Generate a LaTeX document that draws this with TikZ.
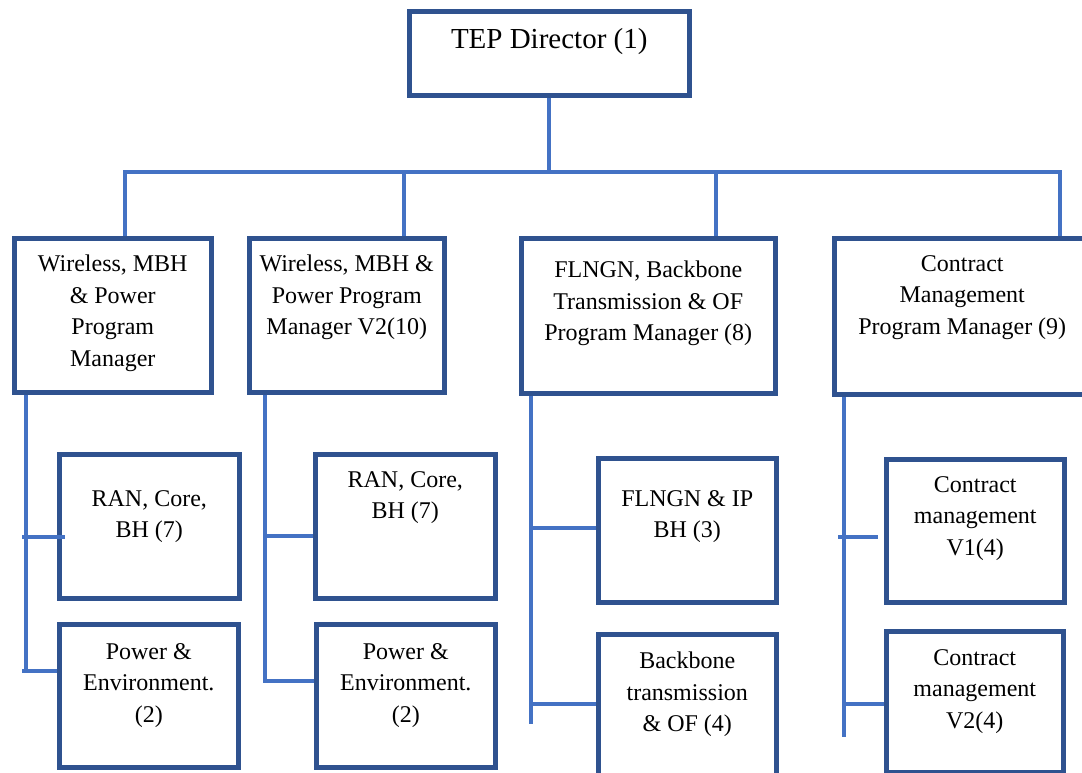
\documentclass[tikz,border=0pt]{standalone}
\usepackage{fontspec}
\setmainfont{Liberation Serif}
\definecolor{boxblue}{RGB}{47,82,143}
\definecolor{lineblue}{RGB}{68,114,196}
\newcommand{\boxtext}[4]{\parbox[c][#2][t]{#1}{\centering\vspace*{#3}#4\par}}

\begin{document}
\begin{tikzpicture}[
  x=1pt, y=-1pt,
  box/.style={draw=boxblue, line width=4.5pt, inner sep=0pt, fill=white, anchor=north west, font=\fontsize{24}{31.5}\selectfont},
  conn/.style={draw=lineblue, line width=4pt},
]
  \useasboundingbox (0,0) rectangle (1082,772);
  \clip (0,0) rectangle (1082,772);

  \node[box, font=\fontsize{29}{35}\selectfont] (dir) at (407,9) {\boxtext{280pt}{84pt}{17pt}{TEP Director (1)}};

  \node[box] (wmp) at (12,236) {\boxtext{197pt}{154pt}{17pt}{Wireless, MBH\\ \& Power\\ Program\\ Manager}};
  \node[box] (wv2) at (247,236) {\boxtext{195pt}{154pt}{17pt}{Wireless, MBH \&\\ Power Program\\ Manager V2(10)}};
  \node[box] (flm) at (519,236) {\boxtext{254pt}{155pt}{23pt}{FLNGN, Backbone\\ Transmission \& OF\\ Program Manager (8)}};
  \node[box] (cmp) at (832,236) {\boxtext{256pt}{156pt}{17pt}{Contract\\ Management\\ Program Manager (9)}};

  \node[box] (ranA) at (57,452) {\boxtext{180pt}{144pt}{36pt}{RAN, Core,\\ BH (7)}};
  \node[box] (pwrA) at (57,622) {\boxtext{179pt}{143pt}{19pt}{Power \&\\ Environment.\\ (2)}};
  \node[box] (ranB) at (313,452) {\boxtext{180pt}{144pt}{17pt}{RAN, Core,\\ BH (7)}};
  \node[box] (pwrB) at (314,622) {\boxtext{179pt}{143pt}{19pt}{Power \&\\ Environment.\\ (2)}};
  \node[box] (flip) at (596,456) {\boxtext{178pt}{144pt}{32pt}{FLNGN \& IP\\ BH (3)}};
  \node[box] (bbt) at (596,632) {\boxtext{178pt}{144pt}{18pt}{Backbone\\ transmission\\ \& OF (4)}};
  \node[box] (cm1) at (884,457) {\boxtext{178pt}{143pt}{17pt}{Contract\\ management\\ V1(4)}};
  \node[box] (cm2) at (884,629) {\boxtext{177pt}{141pt}{18pt}{Contract\\ management\\ V2(4)}};

  \coordinate (busA) at (125,172);
  \coordinate (busB) at (404,172);
  \coordinate (busC) at (716,172);
  \coordinate (busD) at (1060,172);
  \coordinate (spA) at (26,671);
  \coordinate (tA1) at (22,537);
  \coordinate (tA1e) at (65,537);
  \coordinate (tA2) at (22,671);
  \coordinate (spB) at (265,681);
  \coordinate (tB1) at (265,536);
  \coordinate (spC) at (531,724);
  \coordinate (tC1) at (531,528);
  \coordinate (tC2) at (531,704);
  \coordinate (spD) at (844,737);
  \coordinate (tD1) at (838,537);
  \coordinate (tD1e) at (878,537);
  \coordinate (tD2) at (844,704);

  \draw[conn] (dir.south) -- (dir.south |- busA);
  \draw[conn] (wmp.north -| busA) -- (busA) -- (busD) -- (cmp.north -| busD);
  \draw[conn] (busB) -- (busB |- wv2.north);
  \draw[conn] (busC) -- (busC |- flm.north);

  \draw[conn] (spA |- wmp.south) -- (spA);
  \draw[conn] (tA1) -- (tA1e);
  \draw[conn] (tA2) -- (tA2 -| pwrA.west);
  \draw[conn] (spB |- wv2.south) -- (spB) -- (spB -| pwrB.west);
  \draw[conn] (tB1) -- (tB1 -| ranB.west);
  \draw[conn] (spC |- flm.south) -- (spC);
  \draw[conn] (tC1) -- (tC1 -| flip.west);
  \draw[conn] (tC2) -- (tC2 -| bbt.west);
  \draw[conn] (spD |- cmp.south) -- (spD);
  \draw[conn] (tD1) -- (tD1e);
  \draw[conn] (tD2) -- (tD2 -| cm2.west);
\end{tikzpicture}
\end{document}
